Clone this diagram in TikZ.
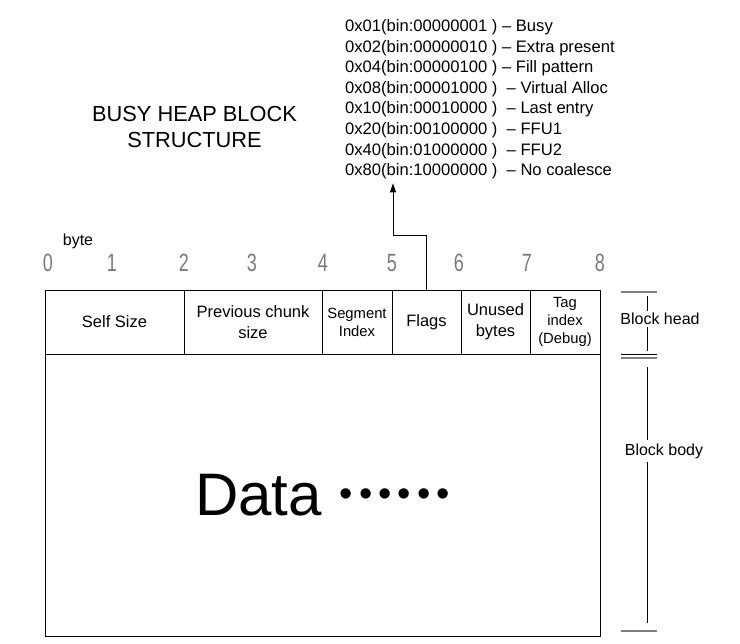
\documentclass[tikz,border=0pt]{standalone}
\usepackage{fontspec}
\setmainfont{Liberation Sans}
\newfontfamily\narrowfont[FakeStretch=0.72]{Liberation Sans}
\usetikzlibrary{positioning,arrows.meta}

\tikzset{
  cell/.style={draw, line width=0.8pt, inner sep=0pt, outer sep=0pt, minimum height=64pt, align=center, font=\fontsize{16.5}{21}\selectfont},
  smallcell/.style={cell, font=\fontsize{14.8}{18}\selectfont},
  bytenum/.style={text=gray!95!blue, inner sep=0pt, font=\narrowfont\fontsize{25}{25}\selectfont},
  flagline/.style={anchor=base west, inner sep=0pt, font=\fontsize{16.6}{16.6}\selectfont},
  sidelabel/.style={inner sep=0pt, font=\fontsize{16}{16}\selectfont},
  graytick/.style={draw=gray, line width=1.8pt},
  blacktick/.style={draw=black, line width=0.8pt},
}

\begin{document}
\begin{tikzpicture}[x=1pt,y=-1pt]
\useasboundingbox (0,0) rectangle (740,644);
% title
\node[align=center, font=\fontsize{21.8}{26.7}\selectfont] (title) at (194.5,127) {BUSY HEAP BLOCK\\STRUCTURE};
% flag values
\foreach \txt [count=\i] in {%
  0x01(bin:00000001 ) – Busy,
  0x02(bin:00000010 ) – Extra present,
  0x04(bin:00000100 ) – Fill pattern,
  0x08(bin:00001000 ) \ – Virtual Alloc,
  0x10(bin:00010000 ) \ – Last entry,
  0x20(bin:00100000 ) \ – FFU1,
  0x40(bin:01000000 ) \ – FFU2,
  0x80(bin:10000000 ) \ – No coalesce}
  \node[flagline] (flag\i) at (345,{31.5+20.6*(\i-1)}) {\txt};
% byte scale
\node[sidelabel] (byte) at (78,241) {byte};
\foreach \i/\x in {0/48,1/112,2/184,3/252,4/323,5/392,6/459,7/527,8/600}
  \node[bytenum] (b\i) at (\x,263) {\i};
% block head
\node[cell, minimum width=139pt] (selfsize) at (114.5,322) {Self Size};
\node[cell, minimum width=138pt, right=0pt of selfsize] (prevsize) {Previous chunk\\size};
\node[smallcell, minimum width=70pt, right=0pt of prevsize] (segidx) {Segment\\Index};
\node[cell, minimum width=69pt, right=0pt of segidx] (flags) {Flags};
\node[cell, minimum width=69pt, right=0pt of flags] (unused) {Unused\\bytes};
\node[smallcell, minimum width=70pt, right=0pt of unused] (tagidx) {Tag\\index\\(Debug)};
% block body
\node[draw, line width=0.8pt, inner sep=0pt, outer sep=0pt, minimum width=555pt, minimum height=282pt,
  anchor=north west, font=\fontsize{60}{60}\selectfont] (body) at (selfsize.south west)
  {Data\kern18pt{\fontsize{38}{38}\selectfont\raisebox{9pt}{•\kern6pt•\kern6pt•\kern6pt•\kern6pt•\kern6pt•}}};
% flags -> values
\coordinate (bend) at (393,235);
\draw[line width=0.8pt, -{Triangle[length=9pt,width=6pt]}, shorten >=4pt]
  (flags.north) |- (bend) -- (bend |- flag8.south);
% right side brackets
\coordinate (htop) at (647,292);
\coordinate (hbot) at (647,354);
\coordinate (btop) at (647,358);
\coordinate (bbot) at (647,631);
\node[sidelabel] (headlbl) at (660,319) {Block head};
\node[sidelabel] (bodylbl) at (664,451) {Block body};
\draw[graytick] ([xshift=-26pt]htop) -- ([xshift=10pt]htop);
\draw[blacktick] ([xshift=-26pt]hbot) -- ([xshift=10pt]hbot);
\draw[graytick] ([xshift=-26pt]btop) -- ([xshift=10pt]btop);
\draw[graytick] ([xshift=-26pt]bbot) -- ([xshift=10pt]bbot);
\draw[line width=0.8pt] ([yshift=-4pt]htop) -- ([yshift=2pt]htop |- headlbl.north);
\draw[line width=0.8pt] ([yshift=-2pt]htop |- headlbl.south) -- ([yshift=3pt]hbot);
\draw[line width=0.8pt] ([yshift=-9pt]btop) -- ([yshift=3pt]btop |- bodylbl.north);
\draw[line width=0.8pt] ([yshift=-3pt]btop |- bodylbl.south) -- ([yshift=8pt]bbot);
\end{tikzpicture}
\end{document}
